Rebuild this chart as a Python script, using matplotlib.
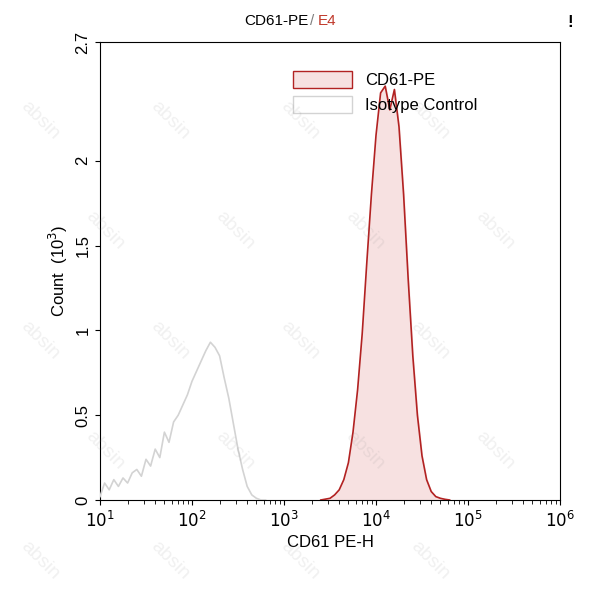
import matplotlib
matplotlib.use("Agg")
import matplotlib.pyplot as plt
import numpy as np
plt.rcParams['font.family'] = ['Liberation Sans', 'DejaVu Sans']

iso_logx = [1.0,1.05,1.1,1.15,1.2,1.25,1.3,1.35,1.4,1.45,1.5,1.55,1.6,1.65,1.7,1.75,1.8,1.85,1.9,1.95,2.0,2.05,2.1,2.15,2.2,2.25,2.3,2.35,2.4,2.45,2.5,2.55,2.6,2.65,2.7,2.75,2.8]
iso_y = [0.02,0.1,0.06,0.12,0.08,0.13,0.1,0.16,0.18,0.14,0.24,0.2,0.3,0.25,0.4,0.34,0.46,0.5,0.56,0.62,0.7,0.76,0.82,0.88,0.93,0.9,0.85,0.72,0.6,0.45,0.3,0.18,0.08,0.03,0.01,0,0]
cd_logx = [3.4,3.45,3.5,3.55,3.6,3.65,3.7,3.75,3.8,3.85,3.9,3.95,4.0,4.05,4.1,4.15,4.2,4.25,4.3,4.35,4.4,4.45,4.5,4.55,4.6,4.65,4.7,4.75,4.8]
cd_y = [0,0.005,0.01,0.03,0.06,0.12,0.22,0.4,0.65,0.98,1.4,1.8,2.15,2.4,2.44,2.3,2.42,2.2,1.8,1.3,0.85,0.5,0.26,0.12,0.05,0.02,0.01,0.004,0]
yticks = [0,0.5,1,1.5,2,2.7]
ytick_labels = ["0","0.5","1","1.5","2","2.7"]
xticks = [1e1,1e2,1e3,1e4,1e5,1e6]

fig = plt.figure(figsize=(5.93,6.0), dpi=100)
ax = fig.add_axes([100/593, 100/600, 460/593, 458/600])
ix = 10**np.array(iso_logx); cx = 10**np.array(cd_logx)
ax.fill_between(cx, cd_y, color="#f7e1e1", zorder=2)
ax.plot(cx, cd_y, color="#b22222", lw=1.2, zorder=3)
ax.plot(ix, iso_y, color="#d3d3d3", lw=1.2, zorder=3)
ax.set_xscale("log")
ax.set_xlim(1e1,1e6); ax.set_ylim(0,2.7)
ax.set_xticks(xticks)
ax.set_xticklabels([r"$10^{%d}$" % int(np.log10(v)) for v in xticks], fontsize=12)
ax.set_yticks(yticks)
ax.set_yticklabels(ytick_labels, rotation=90, va="center", fontsize=12)
ax.tick_params(axis="x", which="minor", length=3)
ax.set_xlabel("CD61 PE-H", fontsize=12)
ax.set_ylabel("Count  (10$^3$)", fontsize=12)
from matplotlib.patches import Patch
h = [Patch(facecolor="#f7e1e1", edgecolor="#b22222", label="CD61-PE"),
     Patch(facecolor="white", edgecolor="#d3d3d3", label="Isotype Control")]
ax.legend(handles=h, loc="upper center", bbox_to_anchor=(0.62,0.97), frameon=False, fontsize=12, handlelength=3.5, handleheight=1.2)
fig.text(0.52, 0.965, "CD61-PE", ha="right", va="center", fontsize=11)
fig.text(0.522, 0.965, "/", ha="left", va="center", fontsize=11, color="gray")
fig.text(0.535, 0.965, "E4", ha="left", va="center", fontsize=11, color="#c0392b")
fig.text(0.956, 0.955, "!", fontsize=12, fontweight="bold")
for yy in range(40, 580, 110):
    for xx in range(40, 560, 130):
        fig.text((xx + (yy//110 % 2)*65)/593, yy/600, "absin", rotation=-45, fontsize=14,
                 color="#888888", alpha=0.12, ha="center", va="center")
fig.savefig("out.png", dpi=100)
